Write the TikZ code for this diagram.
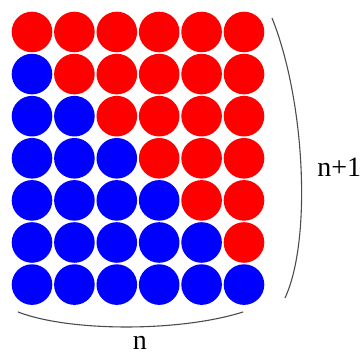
\documentclass[tikz,border=0pt]{standalone}
\usepackage{fontspec}
\setmainfont{Liberation Serif}
\tikzset{
  dot/.style={circle,inner sep=0pt,minimum size=20.3pt,fill=#1},
  brace/.style={draw=black!70,line width=0.55pt},
  lbl/.style={inner sep=0pt,font=\fontsize{14}{16}\selectfont}
}
\begin{document}
\begin{tikzpicture}[x=0.5pt,y=-0.5pt]
\useasboundingbox (0,0) rectangle (361,356);
\foreach \r in {0,...,6} {
  \foreach \c in {0,...,5} {
    \ifnum\c<\r \def\dotcol{blue}\else\def\dotcol{red}\fi
    \node (d\r\c) at ({32+42.4*\c}, {32+42.1*\r}) [dot=\dotcol] {};
  }
}
\coordinate (rtop) at (272,18);
\coordinate (rbot) at (285,298);
\coordinate (bleft)  at ( 18,312);
\coordinate (bright) at (243,312);
\node (nrows) at (317,177) [lbl,anchor=base west] {n+1};
\node (ncols) at (140,350) [lbl,anchor=base] {n};

\draw [brace] (rtop)  .. controls (305,100) and (312,240) .. (rbot);
\draw [brace] (bleft) .. controls ( 70,332) and (180,332) .. (bright);
\end{tikzpicture}
\end{document}
